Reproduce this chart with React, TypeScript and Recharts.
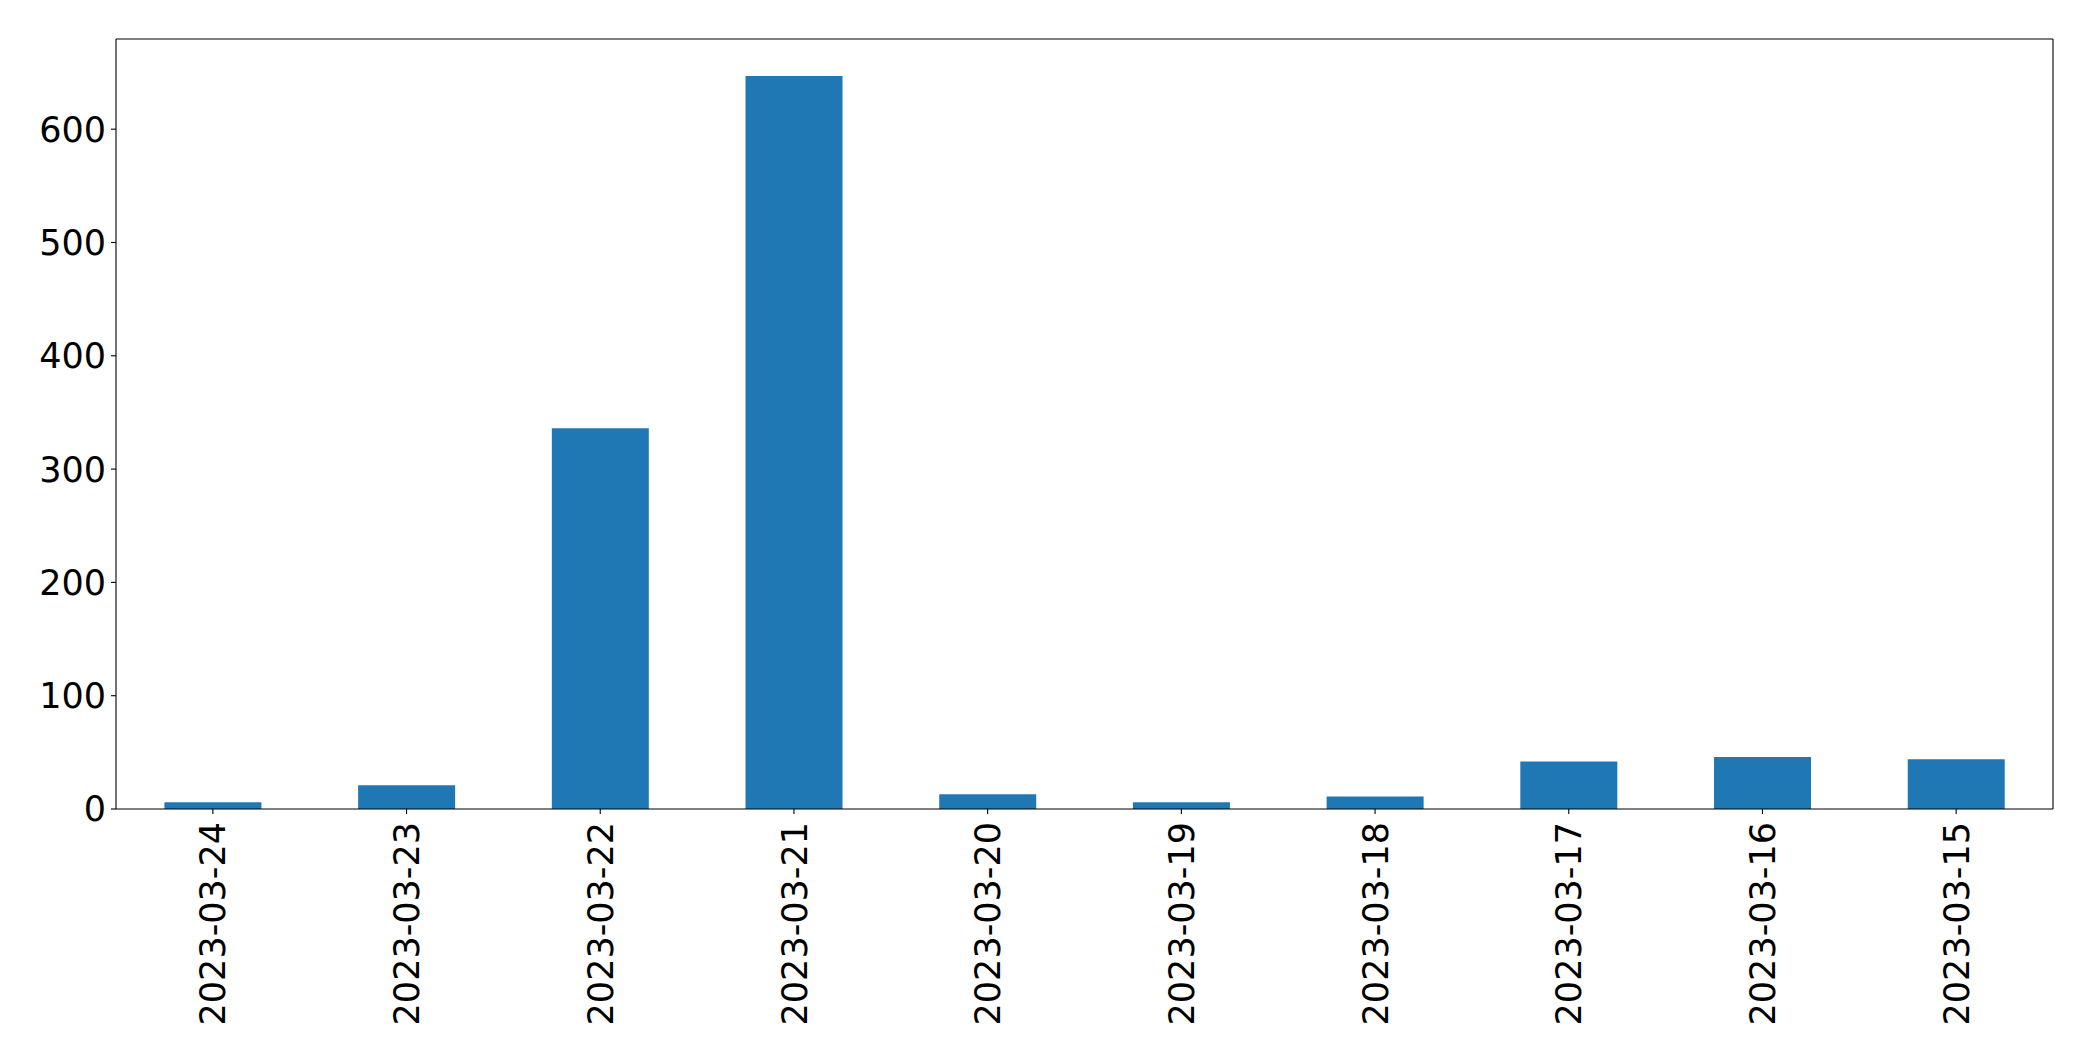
import { BarChart, Bar, XAxis, YAxis } from "recharts";

const dates = [
  "2023-03-24", "2023-03-23", "2023-03-22", "2023-03-21", "2023-03-20",
  "2023-03-19", "2023-03-18", "2023-03-17", "2023-03-16", "2023-03-15",
];
const counts = [6, 21, 336, 647, 13, 6, 11, 42, 46, 44];
const yTicks = [0, 100, 200, 300, 400, 500, 600];

const data = dates.map((d, i) => ({ date: d, count: counts[i] }));

const FONT = "DejaVu Sans";
const SIZE = 35;

function DateTick(props: any) {
  const { x, y, payload } = props;
  const ty = y + 6;
  return (
    <text
      x={x}
      y={ty}
      transform={`rotate(-90, ${x}, ${ty})`}
      textAnchor="end"
      dy="0.36em"
      fontFamily={FONT}
      fontSize={SIZE}
      fill="#000"
    >
      {payload.value}
    </text>
  );
}

export default function App() {
  return (
    <div style={{ position: "absolute", left: 0, top: 0, background: "#fff" }}>
      <BarChart
        width={2093}
        height={1061}
        data={data}
        margin={{ top: 38, right: 39, left: 0, bottom: 0 }}
        barCategoryGap="25%"
      >
        <XAxis
          dataKey="date"
          height={252}
          interval={0}
          tick={<DateTick />}
          tickSize={5}
          axisLine={{ stroke: "#000", strokeWidth: 1.1 }}
          tickLine={{ stroke: "#000", strokeWidth: 1.1 }}
        />
        <XAxis
          xAxisId="top"
          orientation="top"
          dataKey="date"
          height={1}
          tick={false}
          tickLine={false}
          axisLine={{ stroke: "#000", strokeWidth: 1.1 }}
        />
        <YAxis
          width={116}
          domain={[0, 679.6]}
          ticks={yTicks}
          tickSize={5}
          tickMargin={5}
          tick={{ fontFamily: FONT, fontSize: SIZE, fill: "#000" }}
          axisLine={{ stroke: "#000", strokeWidth: 1.1 }}
          tickLine={{ stroke: "#000", strokeWidth: 1.1 }}
        />
        <YAxis
          yAxisId="right"
          orientation="right"
          width={1}
          domain={[0, 679.6]}
          tick={false}
          tickLine={false}
          axisLine={{ stroke: "#000", strokeWidth: 1.1 }}
        />
        <Bar dataKey="count" fill="#1f77b4" isAnimationActive={false} />
      </BarChart>
    </div>
  );
}
